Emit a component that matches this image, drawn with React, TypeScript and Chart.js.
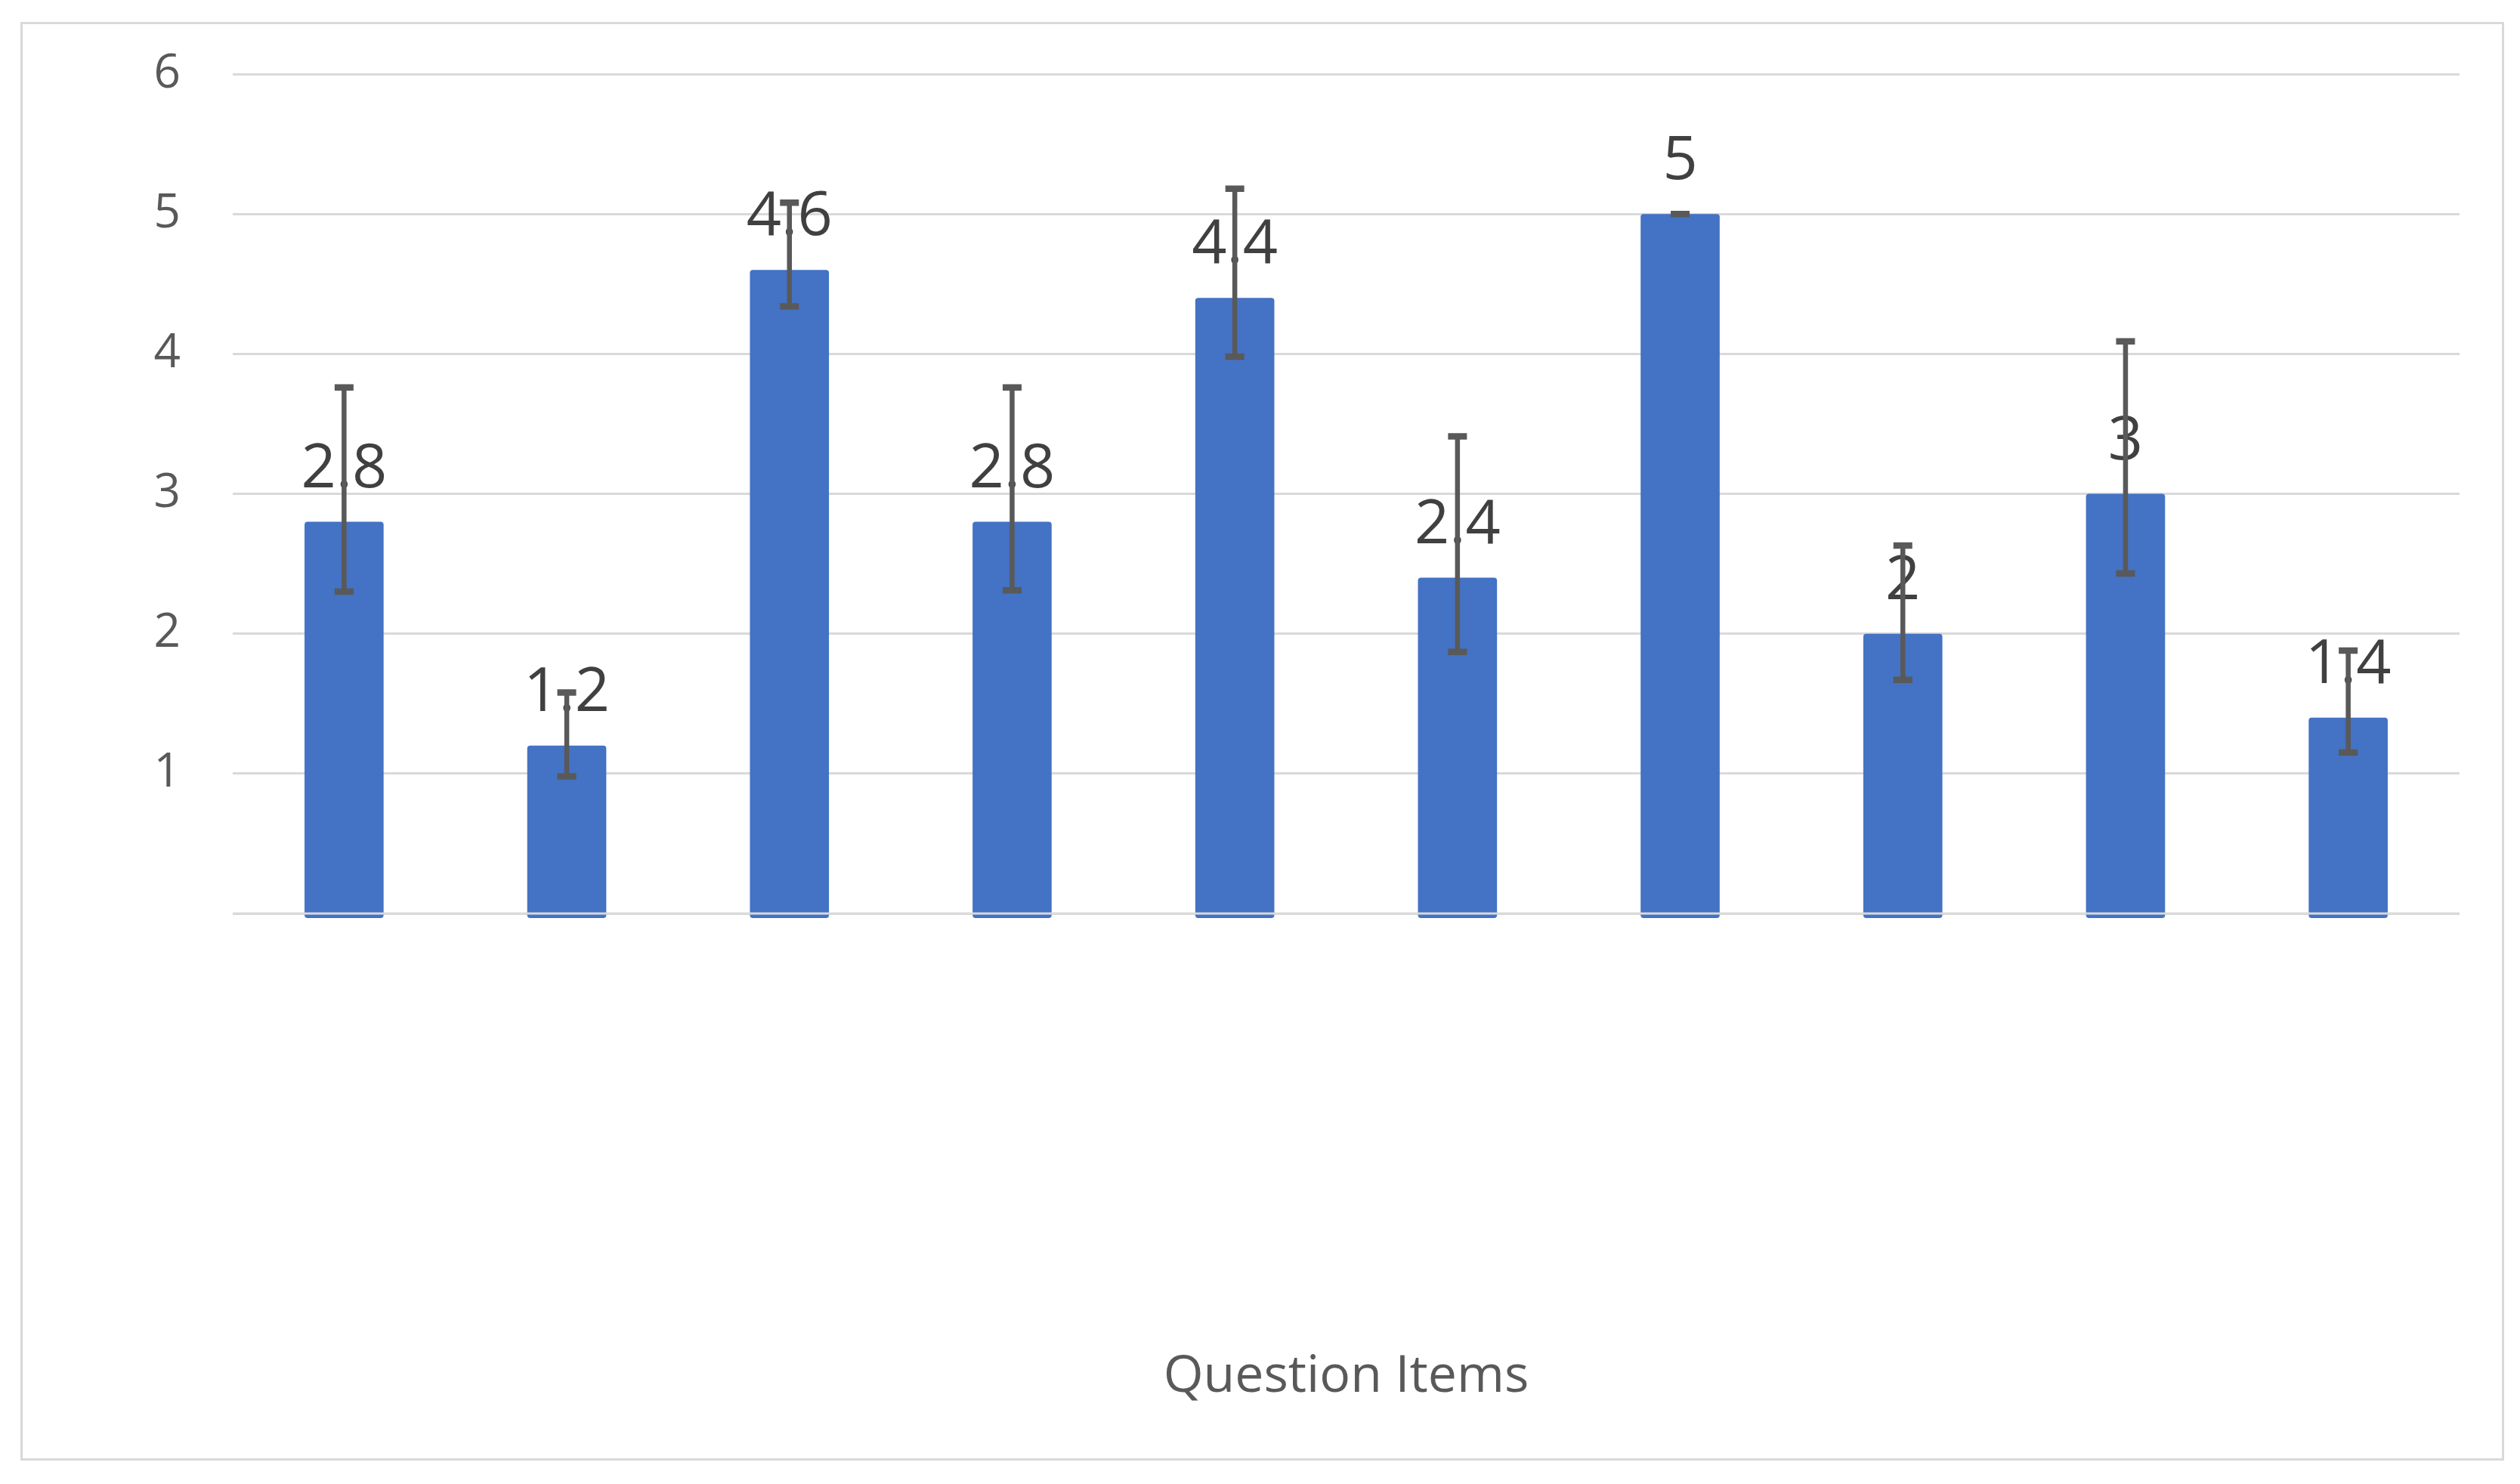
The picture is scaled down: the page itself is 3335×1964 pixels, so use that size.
import React, { useEffect, useRef } from "react";
import { Chart, registerables } from "chart.js";

Chart.register(...registerables);

// ---- data ----
const categories: string[] = ["Q1", "Q2", "Q3", "Q4", "Q5", "Q6", "Q7", "Q8", "Q9", "Q10"];
const meanValues: number[] = [2.8, 1.2, 4.6, 2.8, 4.4, 2.4, 5, 2, 3, 1.4];
const errorPlus: number[] = [0.96, 0.38, 0.48, 0.96, 0.78, 1.01, 0, 0.63, 1.09, 0.48];
const errorMinus: number[] = [0.5, 0.22, 0.26, 0.49, 0.42, 0.53, 0, 0.33, 0.57, 0.25];
const yTicks: number[] = [0, 1, 2, 3, 4, 5, 6];
const xAxisTitle = "Question Items";

const FONT = '"Open Sans", sans-serif';

const App: React.FC = () => {
  const canvasRef = useRef<HTMLCanvasElement | null>(null);

  useEffect(() => {
    const canvas = canvasRef.current;
    if (!canvas) return;

    const framePlugin = {
      id: "frame",
      beforeDraw(chart: any) {
        const { ctx, width, height } = chart;
        ctx.save();
        ctx.fillStyle = "#ffffff";
        ctx.fillRect(0, 0, width, height);
        ctx.strokeStyle = "#D9D9D9";
        ctx.lineWidth = 3;
        ctx.strokeRect(28.5, 30.5, 3312 - 28, 1931 - 30);
        ctx.restore();
      },
    };

    const overlayPlugin = {
      id: "overlay",
      afterDatasetsDraw(chart: any) {
        const { ctx, chartArea } = chart;
        const yScale = chart.scales.y;
        const meta = chart.getDatasetMeta(0);
        ctx.save();
        // zero line over the bars
        const y0 = yScale.getPixelForValue(0);
        ctx.strokeStyle = "#D9D9D9";
        ctx.lineWidth = 3;
        ctx.beginPath();
        ctx.moveTo(chartArea.left, y0);
        ctx.lineTo(chartArea.right, y0);
        ctx.stroke();

        // data labels
        ctx.fillStyle = "#404040";
        ctx.font = `81px ${FONT}`;
        ctx.textAlign = "center";
        ctx.textBaseline = "alphabetic";
        meta.data.forEach((bar: any, i: number) => {
          ctx.fillText(String(meanValues[i]), bar.x, bar.y - 46);
        });

        // error bars
        ctx.strokeStyle = "#595959";
        ctx.lineCap = "butt";
        meta.data.forEach((bar: any, i: number) => {
          const v = meanValues[i];
          const top = yScale.getPixelForValue(v + errorPlus[i]);
          const bot = yScale.getPixelForValue(v - errorMinus[i]);
          const x = bar.x;
          ctx.lineWidth = 6.5;
          ctx.beginPath();
          ctx.moveTo(x, top);
          ctx.lineTo(x, bot);
          ctx.stroke();
          ctx.lineWidth = 8.5;
          ctx.beginPath();
          ctx.moveTo(x - 12.5, top);
          ctx.lineTo(x + 12.5, top);
          ctx.moveTo(x - 12.5, bot);
          ctx.lineTo(x + 12.5, bot);
          ctx.stroke();
        });
        ctx.restore();
      },
    };

    const chart = new Chart(canvas, {
      type: "bar",
      data: {
        labels: categories,
        datasets: [
          {
            data: meanValues,
            backgroundColor: "#4472C4",
            barPercentage: 0.355,
            categoryPercentage: 1,
            borderRadius: 4,
            borderSkipped: false,
            base: -0.032,
            clip: false as any,
          } as any,
        ],
      },
      options: {
        animation: false,
        responsive: false,
        maintainAspectRatio: false,
        devicePixelRatio: 1,
        layout: { padding: { left: 0, right: 80, top: 98, bottom: 0 } },
        plugins: {
          legend: { display: false },
          tooltip: { enabled: false },
          title: { display: false },
        },
        scales: {
          x: {
            type: "category",
            grid: { display: false, drawTicks: false },
            border: { display: false },
            ticks: { display: false },
            title: {
              display: true,
              text: xAxisTitle,
              color: "#595959",
              font: { family: FONT, size: 68 },
              padding: { top: 572, bottom: 101 },
            },
            afterFit: (s: any) => {
              s.height = 755;
              s.paddingLeft = 0;
              s.paddingRight = 0;
            },
          },
          y: {
            min: yTicks[0],
            max: yTicks[yTicks.length - 1],
            afterBuildTicks: (s: any) => {
              s.ticks = yTicks.map((v) => ({ value: v }));
            },
            ticks: {
              stepSize: 1,
              padding: 69,
              color: "#595959",
              font: { family: FONT, size: 62 },
              callback: (v: any) => (Number(v) === 0 ? "" : String(v)),
            },
            grid: { color: "#D9D9D9", lineWidth: 3, drawTicks: false },
            border: { display: false },
            afterFit: (s: any) => {
              s.width = 308;
              s.paddingTop = 0;
              s.paddingBottom = 0;
            },
          },
        },
      },
      plugins: [framePlugin, overlayPlugin],
    });

    return () => {
      chart.destroy();
    };
  }, []);

  return (
    <div style={{ position: "fixed", left: 0, top: 0, width: 3335, height: 1964, background: "#fff" }}>
      <canvas ref={canvasRef} width={3335} height={1964} style={{ width: 3335, height: 1964, display: "block" }} />
    </div>
  );
};

export default App;
